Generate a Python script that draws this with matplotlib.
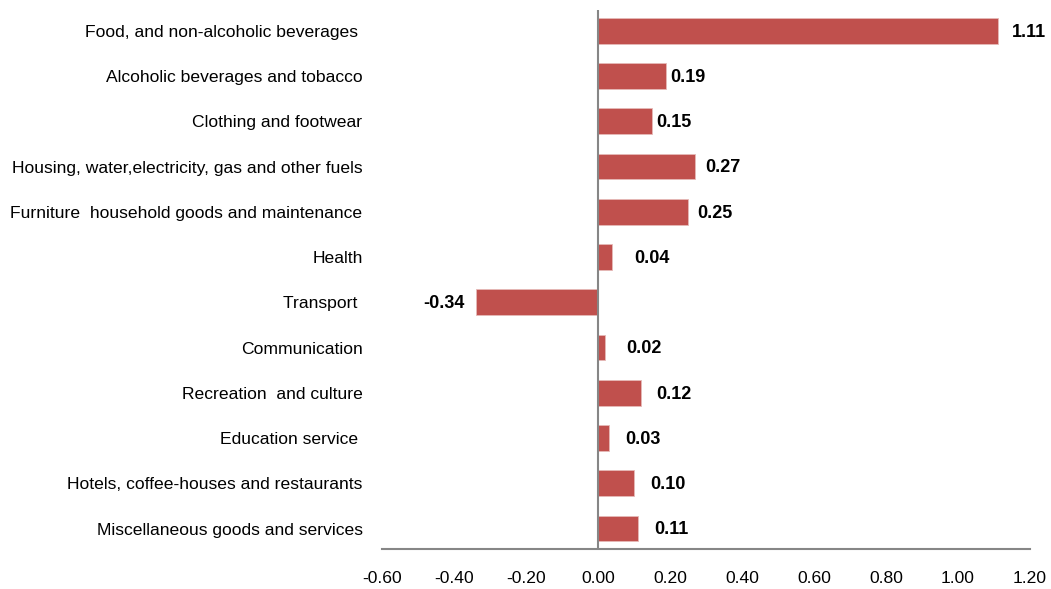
import matplotlib
matplotlib.use("Agg")
import matplotlib.pyplot as plt
from matplotlib import font_manager

# categories, top to bottom
categorias = ["Food, and non-alcoholic beverages ",
              "Alcoholic beverages and tobacco",
              "Clothing and footwear",
              "Housing, water,electricity, gas and other fuels",
              "Furniture  household goods and maintenance",
              "Health",
              "Transport ",
              "Communication",
              "Recreation  and culture",
              "Education service ",
              "Hotels, coffee-houses and restaurants",
              "Miscellaneous goods and services"]
valores = [1.11, 0.19, 0.15, 0.27, 0.25, 0.04, -0.34, 0.02, 0.12, 0.03, 0.10, 0.11]
xticks = [-0.60, -0.40, -0.20, 0.00, 0.20, 0.40, 0.60, 0.80, 1.00, 1.20]

# fonte estreita se existir
nomes = set(f.name for f in font_manager.fontManager.ttflist)
fonte = "Liberation Sans Narrow" if "Liberation Sans Narrow" in nomes else "Liberation Sans"
plt.rcParams['font.family'] = [fonte, 'DejaVu Sans']

fig = plt.figure(figsize=(10.51, 5.89), dpi=100)
ax = fig.add_axes([0.3635, 0.068, 0.6165, 0.915])

pos = list(range(len(categorias)))
ax.barh(pos, valores, height=0.57, color="#C0504D", edgecolor="#E6B9B8", linewidth=0.6)

# rotulos de valor (pad em pontos, como no original)
pads = [10, 3, 3, 7, 7, 16, 8, 15, 10.5, 12, 12, 12]
for i, v in enumerate(valores):
    if v >= 0:
        ax.annotate("%.2f" % v, (v, i), xytext=(pads[i], -1), textcoords="offset points",
                    ha="left", va="center", fontsize=13, fontweight="bold")
    else:
        ax.annotate("%.2f" % v, (v, i), xytext=(-pads[i], -1), textcoords="offset points",
                    ha="right", va="center", fontsize=13, fontweight="bold")

ax.set_xlim(-0.6, 1.2)
ax.set_ylim(len(categorias) - 0.55, -0.46)
ax.set_xticks(xticks)
ax.set_xticklabels(["%.2f" % t for t in xticks], fontsize=12.6)
ax.set_yticks(pos)
ax.set_yticklabels(categorias, fontsize=12.6)
ax.tick_params(axis="y", length=0, pad=14)
ax.tick_params(axis="x", length=0, pad=16)

for s in ["top", "right", "left"]:
    ax.spines[s].set_visible(False)
ax.spines["bottom"].set_color("#868686")
ax.spines["bottom"].set_linewidth(1.5)
ax.axvline(0, color="#868686", linewidth=1.5)

fig.savefig("out.png", dpi=100)
